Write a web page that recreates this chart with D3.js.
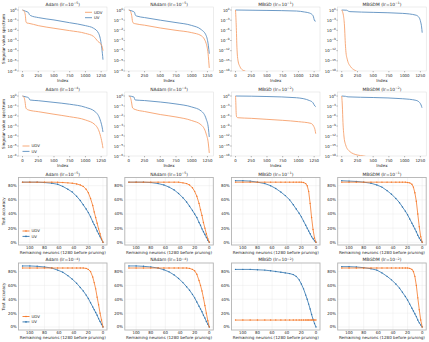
<!DOCTYPE html>
<html>
<head>
<meta charset="utf-8">
<script src="https://cdn.jsdelivr.net/npm/d3@7"></script>
<style>
  body { margin: 0; background: #fff; }
  text { font-family: "DejaVu Sans", sans-serif; fill: #262626; }
</style>
</head>
<body>
<div id="chart"></div>
<script>
// ---- data ----
// spectrum panels: [index, singular value]
var adam5UDV = [[0,1],[25,0.75],[45,0.3],[55,0.07],[70,0.052],[100,0.049],[250,0.029],[500,0.016],[750,0.0093],[1000,0.005],[1130,0.0025],[1200,0.0008],[1250,0.0004],[1270,0.0002],[1279,0.0001]];
var adam5UV = [[0,1],[50,0.75],[95,0.55],[110,0.35],[130,0.28],[250,0.18],[500,0.105],[750,0.056],[1000,0.029],[1130,0.016],[1210,0.005],[1250,0.0005],[1270,0.00005],[1279,0.000013]];
var nadam5UDV = [[0,1],[25,0.75],[45,0.3],[60,0.07],[75,0.05],[100,0.045],[250,0.032],[500,0.017],[750,0.01],[1000,0.0059],[1150,0.003],[1230,0.0005],[1260,0.00005],[1279,0.000002]];
var nadam5UV = [[0,1],[50,0.8],[90,0.6],[105,0.3],[130,0.25],[250,0.18],[500,0.1],[750,0.058],[1000,0.03],[1150,0.012],[1230,0.003],[1265,0.0003],[1279,0.00005]];
var mbgd1UDV = [[0,1],[8,1e-3],[14,1e-6],[20,1e-10],[28,1e-13],[40,1e-15],[70,2e-17],[110,2e-18],[150,1e-18],[220,1e-19]];
var mbgd1UV = [[0,1],[500,0.75],[970,0.5],[1100,0.25],[1180,0.12],[1233,0.02],[1259,0.0006],[1275,0.0005]];
var mbgdm1UDV = [[0,1],[30,1e-2],[45,1e-5],[55,1e-9],[65,1e-12],[90,2e-15],[140,2e-17],[200,2e-18],[240,7e-19],[300,1e-19]];
var mbgdm1UV = [[0,1],[80,0.85],[110,0.4],[130,0.33],[500,0.2],[970,0.1],[1180,0.03],[1230,0.006],[1255,0.0003],[1270,1e-5],[1279,2e-7]];

var adam4UDV = [[0,1],[25,0.7],[40,0.27],[55,0.06],[95,0.04],[250,0.027],[500,0.015],[750,0.0085],[1000,0.004],[1155,0.0013],[1235,0.00013],[1265,0.00002],[1279,0.000006]];
var adam4UV = [[0,1],[60,0.8],[95,0.68],[118,0.4],[250,0.34],[500,0.23],[750,0.15],[1000,0.074],[1155,0.027],[1235,0.004],[1265,0.0008],[1279,0.00025]];
var nadam4UDV = [[0,1],[25,0.7],[40,0.3],[60,0.063],[100,0.045],[250,0.028],[500,0.014],[750,0.008],[1000,0.0035],[1150,0.0013],[1230,0.00016],[1265,0.000016],[1279,0.000002]];
var nadam4UV = [[0,1],[80,0.8],[100,0.4],[250,0.35],[500,0.25],[750,0.16],[1000,0.08],[1150,0.032],[1230,0.005],[1265,0.0006],[1279,0.00008]];
var mbgd2UDV = [[0,1],[5,1e-2],[10,1e-5],[18,5e-7],[40,3e-7],[250,2e-7],[500,1e-7],[750,5e-8],[1000,2e-8],[1200,6e-9],[1240,1e-9],[1262,1e-10],[1275,5e-12]];
var mbgd2UV = [[0,1],[500,0.7],[970,0.3],[1180,0.04],[1230,0.01],[1262,0.001],[1275,0.0006]];
var mbgdm2UDV = [[0,1],[10,1e-3],[20,1e-8],[35,1e-12],[63,2e-15],[120,3e-17],[246,2e-18],[350,1e-18],[420,5e-19]];
var mbgdm2UV = [[0,1],[60,0.8],[100,0.55],[500,0.35],[970,0.15],[1180,0.05],[1240,0.01],[1262,0.002],[1276,0.0003]];

// accuracy panels: remaining neurons (x) and test accuracy in % per series
var remaining = [110, 100, 90, 80, 70, 62, 55, 48, 42, 36, 31, 27, 23, 20, 17, 14, 12, 10, 8, 6, 4, 2, 0];
var adam5AccUDV = [85,85,85,85,85,84.8,84.5,84,83.5,82.5,81,79,75,70,62,52,43,35,27,19,12,5,0];
var adam5AccUV = [85,85,85,84.5,83.5,82,79,75,71,65,59,53,47,42,36,29,25,21,16,12,8,4,0];
var nadam5AccUDV = [85,85,85,85,85,85,85,85,85,84,83,81,77,72,65,55,46,38,28,20,12,5,0];
var nadam5AccUV = [85,85,85,84.5,83,81,78,74,69,63,57,51,45,40,35,28,24,19,15,11,7,3,0];
var mbgd1AccUDV = [85,85,85,85,85,85,85,85,85,85,85,85,85,85,84.5,83,80,72,55,35,18,6,0];
var mbgd1AccUV = [87,87,86.5,85,83,80,76,71,66,60,53,47,41,36,30,24,20,16,12,8,5,2,0];
var mbgdm1AccUDV = [85,85,85,85,85,85,85,85,85,85,85,85,85,84.5,84,82,78,70,58,40,22,8,0];
var mbgdm1AccUV = [87,86.5,86,85,83.5,81,78,73,68,62,56,50,44,39,33,27,23,19,15,10,6,3,0];
var adam4AccUDV = [85,85,85,85,85,85,85,85,85,85,85,85,84.5,83,80,72,64,55,43,32,20,10,0];
var adam4AccUV = [88,88,87.5,86.5,85,82,79,74,69,63,57,52,46,41,35,29,25,21,17,12,8,4,0];
var nadam4AccUDV = [85,85,85,85,85,85,85,85,85,85,85,84.5,83,81,76,67,60,52,42,31,20,9,0];
var nadam4AccUV = [88,88,87.5,86.5,85,82.5,79.5,75,70,64,58,53,47,42,36,30,26,22,17,13,8,4,0];
var mbgd2AccUDV = [10,10,10,10,10,10,10,10,10,10,10,10,10,10,10,10,10,10,10,10,10,10,10];
var mbgd2AccUV = [83,83,83,82.5,82,81,80,79,78,77,75.5,73,68,62,55,46,40,33,26,18,11,5,0];
var mbgdm2AccUDV = [85,85,85,85,85,85,85,85,85,85,85,85,85,85,84.5,83,80,73,60,42,25,10,0];
var mbgdm2AccUV = [87,87,86.5,85.5,84,82,78,73,68,62,56,50,44,39,33,27,23,19,15,10,6,3,0];

// titles and tick labels
var optimizers = ["Adam", "NAdam", "MBGD", "MBGDM"];
var lrRow1 = ["\u22125", "\u22125", "\u22121", "\u22121"];
var lrRow2 = ["\u22124", "\u22124", "\u22122", "\u22122"];
var indexTicks = [0, 250, 500, 750, 1000, 1250];
var decadeTicksSmall = [0, -1, -2, -3, -4, -5, -6];
var decadeTicksLarge = [0, -3, -6, -9, -12, -15, -18];
var neuronTicks = [100, 80, 60, 40, 20, 0];
var accTicks = [0, 20, 40, 60, 80];

var spectrumPanels = [
  [[adam5UDV, adam5UV], [nadam5UDV, nadam5UV], [mbgd1UDV, mbgd1UV], [mbgdm1UDV, mbgdm1UV]],
  [[adam4UDV, adam4UV], [nadam4UDV, nadam4UV], [mbgd2UDV, mbgd2UV], [mbgdm2UDV, mbgdm2UV]]
];
var accuracyPanels = [
  [[adam5AccUDV, adam5AccUV], [nadam5AccUDV, nadam5AccUV], [mbgd1AccUDV, mbgd1AccUV], [mbgdm1AccUDV, mbgdm1AccUV]],
  [[adam4AccUDV, adam4AccUV], [nadam4AccUDV, nadam4AccUV], [mbgd2AccUDV, mbgd2AccUV], [mbgdm2AccUDV, mbgdm2AccUV]]
];

// ---- layout ----
var svgWidth = 429;
var svgHeight = 342;
var colLeft = [18.5, 124.8, 231.5, 337.7];
var colWidth = 88.5;
// spectrum rows: frame top, y of 10^0, y of bottom tick (frame bottom)
var specRows = [{top: 7, one: 10, bottom: 71}, {top: 92, one: 96, bottom: 156}];
// accuracy rows: frame top/bottom, y of 0% and 80%
var accRows = [{top: 177.5, bottom: 245, y0: 242.3, y80: 185.7}, {top: 263, bottom: 330, y0: 327, y80: 271.5}];

var lightOrange = "#f6a06c", lightBlue = "#5b8fc0";
var orange = "#f5792a", blue = "#2f74ae";

var svg = d3.select("#chart")
  .append("svg")
  .attr("width", svgWidth)
  .attr("height", svgHeight);

var fs = 3.9;     // tick labels
var labelFs = 4.1; // axis labels
var titleFs = 4.4;

function addTitle(g, cx, y, name, exp) {
  var t = g.append("text")
    .attr("x", cx)
    .attr("y", y)
    .attr("text-anchor", "middle")
    .attr("font-size", titleFs);
  t.append("tspan").text(name + " (lr=10");
  t.append("tspan").attr("font-size", 3.1).attr("dy", -1.8).text(exp);
  t.append("tspan").attr("dy", 1.8).text(")");
}

// Step 1: spectrum panels
specRows.forEach(function(row, r) {
  for (var c = 0; c < 4; c++) {
    var left = colLeft[c], right = left + colWidth;
    var big = c >= 2;
    var x = d3.scaleLinear().domain([-64, 1343]).range([left, right]);
    var y = d3.scaleLog().domain([big ? 1e-18 : 1e-6, 1]).range([row.bottom, row.one]);
    var g = svg.append("g");

    var clipId = "clip-s" + r + c;
    g.append("clipPath").attr("id", clipId)
      .append("rect").attr("x", left).attr("y", row.top).attr("width", colWidth).attr("height", row.bottom - row.top);

    g.append("rect")
      .attr("x", left).attr("y", row.top)
      .attr("width", colWidth).attr("height", row.bottom - row.top)
      .attr("fill", "none").attr("stroke", "#d9d9d9").attr("stroke-width", 0.5);

    var line = d3.line()
      .x(function(d) { return x(d[0]); })
      .y(function(d) { return y(d[1]); })
      .curve(d3.curveMonotoneX);

    var pair = spectrumPanels[r][c];
    g.append("path").datum(pair[1]).attr("d", line).attr("clip-path", "url(#" + clipId + ")")
      .attr("fill", "none").attr("stroke", lightBlue).attr("stroke-width", 0.9);
    g.append("path").datum(pair[0]).attr("d", line).attr("clip-path", "url(#" + clipId + ")")
      .attr("fill", "none").attr("stroke", lightOrange).attr("stroke-width", 0.9);

    // x ticks
    indexTicks.forEach(function(v) {
      g.append("line").attr("x1", x(v)).attr("x2", x(v)).attr("y1", row.bottom).attr("y2", row.bottom + 1.3)
        .attr("stroke", "#444").attr("stroke-width", 0.4);
      g.append("text").attr("x", x(v)).attr("y", row.bottom + 5.6).attr("text-anchor", "middle")
        .attr("font-size", fs).text(v);
    });
    g.append("text").attr("x", (left + right) / 2).attr("y", row.bottom + 10.5)
      .attr("text-anchor", "middle").attr("font-size", labelFs).text("Index");

    // y ticks
    (big ? decadeTicksLarge : decadeTicksSmall).forEach(function(e) {
      var yy = y(Math.pow(10, e));
      g.append("line").attr("x1", left - 1.3).attr("x2", left).attr("y1", yy).attr("y2", yy)
        .attr("stroke", "#444").attr("stroke-width", 0.4);
      var t = g.append("text").attr("x", left - 1.8).attr("y", yy + 1.5)
        .attr("text-anchor", "end").attr("font-size", fs);
      t.append("tspan").text("10");
      t.append("tspan").attr("font-size", 2.9).attr("dy", -1.8).text(e === 0 ? "0" : "\u2212" + (-e));
    });

    addTitle(g, (left + right) / 2, row.top - 1.4, optimizers[c], r === 0 ? lrRow1[c] : lrRow2[c]);

    if (c === 0) {
      g.append("text")
        .attr("transform", "translate(5," + ((row.top + row.bottom) / 2) + ") rotate(-90)")
        .attr("text-anchor", "middle").attr("font-size", labelFs)
        .text("Singular value spectrum");
    }
  }
});

// legends
function lineLegend(x0, y0, withMarker) {
  var items = [["UDV", withMarker ? orange : lightOrange], ["UV", withMarker ? blue : lightBlue]];
  items.forEach(function(it, i) {
    var yy = y0 + i * 5.4;
    svg.append("line").attr("x1", x0).attr("x2", x0 + 7).attr("y1", yy).attr("y2", yy)
      .attr("stroke", it[1]).attr("stroke-width", 0.9);
    if (withMarker) {
      svg.append("circle").attr("cx", x0 + 3.5).attr("cy", yy).attr("r", 0.8).attr("fill", it[1]);
    }
    svg.append("text").attr("x", x0 + 9).attr("y", yy + 1.4).attr("font-size", fs).text(it[0]);
  });
}
lineLegend(85, 12.3, false);
lineLegend(22.5, 146, false);

// Step 2: accuracy panels
accRows.forEach(function(row, r) {
  for (var c = 0; c < 4; c++) {
    var left = colLeft[c], right = left + colWidth;
    var x = d3.scaleLinear().domain([115.5, -5.5]).range([left, right]);
    var y = d3.scaleLinear().domain([0, 80]).range([row.y0, row.y80]);
    var g = svg.append("g");

    // grid
    neuronTicks.forEach(function(v) {
      g.append("line").attr("x1", x(v)).attr("x2", x(v)).attr("y1", row.top).attr("y2", row.bottom)
        .attr("stroke", "#e6e6e6").attr("stroke-width", 0.4);
    });
    accTicks.forEach(function(v) {
      g.append("line").attr("x1", left).attr("x2", right).attr("y1", y(v)).attr("y2", y(v))
        .attr("stroke", "#e6e6e6").attr("stroke-width", 0.4);
    });

    g.append("rect")
      .attr("x", left).attr("y", row.top)
      .attr("width", colWidth).attr("height", row.bottom - row.top)
      .attr("fill", "none").attr("stroke", "#b3b3b3").attr("stroke-width", 0.9);

    var pair = accuracyPanels[r][c];
    [[pair[1], blue], [pair[0], orange]].forEach(function(s) {
      var pts = remaining.map(function(v, i) { return [v, s[0][i]]; });
      g.append("path").datum(pts)
        .attr("d", d3.line().x(function(d) { return x(d[0]); }).y(function(d) { return y(d[1]); }))
        .attr("fill", "none").attr("stroke", s[1]).attr("stroke-width", 0.8);
      g.selectAll(null).data(pts).enter().append("circle")
        .attr("cx", function(d) { return x(d[0]); })
        .attr("cy", function(d) { return y(d[1]); })
        .attr("r", 0.7).attr("fill", s[1]);
    });

    neuronTicks.forEach(function(v) {
      g.append("text").attr("x", x(v)).attr("y", row.bottom + 4.4).attr("text-anchor", "middle")
        .attr("font-size", fs).text(v);
    });
    g.append("text").attr("x", (left + right) / 2).attr("y", row.bottom + 9)
      .attr("text-anchor", "middle").attr("font-size", labelFs)
      .attr("textLength", 86).attr("lengthAdjust", "spacingAndGlyphs")
      .text("Remaining neurons (1280 before pruning)");

    accTicks.forEach(function(v) {
      g.append("text").attr("x", left - 1.8).attr("y", y(v) + 1.4)
        .attr("text-anchor", "end").attr("font-size", fs).text(v + "%");
    });

    addTitle(g, (left + right) / 2, row.top - 1.6, optimizers[c], r === 0 ? lrRow1[c] : lrRow2[c]);

    if (c === 0) {
      g.append("text")
        .attr("transform", "translate(5," + ((row.top + row.bottom) / 2) + ") rotate(-90)")
        .attr("text-anchor", "middle").attr("font-size", labelFs)
        .text("Test accuracy");
    }
  }
});

lineLegend(22.5, 231, true);
lineLegend(22.5, 316.5, true);
</script>
</body>
</html>
